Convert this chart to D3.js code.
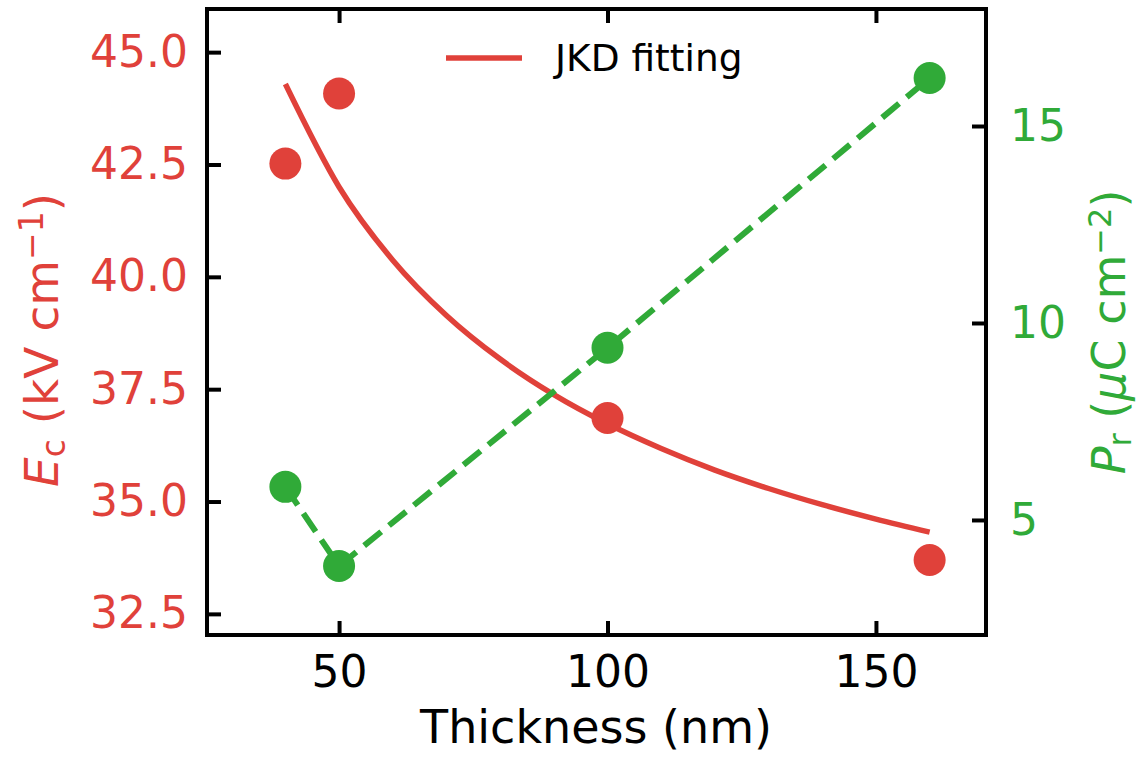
<!DOCTYPE html>
<html>
<head>
<meta charset="utf-8">
<script src="https://cdn.jsdelivr.net/npm/d3@7"></script>
<style>
  body { margin: 0; background: #fff; }
  svg text { font-family: 'DejaVu Sans', sans-serif; }
</style>
</head>
<body>
<svg id="chart" width="1143" height="757"></svg>
<script>
// measured data
const thickness = [40, 50, 100, 160];
const ecValues = [42.52, 44.08, 36.86, 33.70];
const prValues = [5.84, 3.83, 9.37, 16.22];

// JKD fitting curve
const fitThickness = [40, 50, 60, 70, 80, 90, 100, 110, 120, 130, 140, 150, 160];
const fitEc = [44.29, 42.0, 40.37, 39.14, 38.17, 37.38, 36.73, 36.18, 35.70, 35.29, 34.93, 34.61, 34.32];

const xTicks = [50, 100, 150];
const ecTicks = [32.5, 35.0, 37.5, 40.0, 42.5, 45.0];
const prTicks = [5, 10, 15];

const RED = '#e0413a';
const GREEN = '#30aa38';

const box = { left: 207, right: 986, top: 9, bottom: 635 };
const svg = d3.select('#chart');

const x = d3.scaleLinear().domain([25.4, 170.5]).range([box.left, box.right]);
const yL = d3.scaleLinear().domain([32.03, 45.96]).range([box.bottom, box.top]);
const yR = d3.scaleLinear().domain([2.08, 17.97]).range([box.bottom, box.top]);

const tickLen = 14;
const styleAxis = (g, color) => {
  g.select('.domain').remove();
  g.selectAll('.tick line').attr('stroke', '#000').attr('stroke-width', 4);
  g.selectAll('.tick text').attr('fill', color).style('font-size', '44px');
};

// axes
svg.append('g')
  .attr('transform', `translate(${box.left},0)`)
  .call(d3.axisLeft(yL).tickValues(ecTicks).tickFormat(d3.format('.1f')).tickSize(-tickLen).tickPadding(19))
  .call(g => styleAxis(g, RED));

svg.append('g')
  .attr('transform', `translate(${box.right},0)`)
  .call(d3.axisRight(yR).tickValues(prTicks).tickSize(-tickLen).tickPadding(24))
  .call(g => styleAxis(g, GREEN));

svg.append('g')
  .attr('transform', `translate(0,${box.bottom})`)
  .call(d3.axisBottom(x).tickValues(xTicks).tickSize(-tickLen).tickPadding(21))
  .call(g => styleAxis(g, '#000'));

svg.append('g')
  .attr('transform', `translate(0,${box.top})`)
  .call(d3.axisTop(x).tickValues(xTicks).tickSize(-tickLen).tickFormat(''))
  .call(g => styleAxis(g, '#000'));

// fit curve
const fitLine = d3.line().x((d, i) => x(fitThickness[i])).y(d => yL(d)).curve(d3.curveMonotoneX);
svg.append('path')
  .datum(fitEc)
  .attr('d', fitLine)
  .attr('fill', 'none')
  .attr('stroke', RED)
  .attr('stroke-width', 5.5);

// Pr dashed line
const prLine = d3.line().x((d, i) => x(thickness[i])).y(d => yR(d));
svg.append('path')
  .datum(prValues)
  .attr('d', prLine)
  .attr('fill', 'none')
  .attr('stroke', GREEN)
  .attr('stroke-width', 6)
  .attr('stroke-dasharray', '22,10');

svg.selectAll('.ec-dot')
  .data(ecValues)
  .enter().append('circle')
  .attr('class', 'ec-dot')
  .attr('cx', (d, i) => x(thickness[i]))
  .attr('cy', d => yL(d))
  .attr('r', 16)
  .attr('fill', RED);

svg.selectAll('.pr-dot')
  .data(prValues)
  .enter().append('circle')
  .attr('class', 'pr-dot')
  .attr('cx', (d, i) => x(thickness[i]))
  .attr('cy', d => yR(d))
  .attr('r', 16)
  .attr('fill', GREEN);

// frame
svg.append('rect')
  .attr('x', box.left)
  .attr('y', box.top)
  .attr('width', box.right - box.left)
  .attr('height', box.bottom - box.top)
  .attr('fill', 'none')
  .attr('stroke', '#000')
  .attr('stroke-width', 4);

// legend
svg.append('line')
  .attr('x1', 446).attr('x2', 522)
  .attr('y1', 58).attr('y2', 58)
  .attr('stroke', RED).attr('stroke-width', 5.5);
svg.append('text')
  .attr('x', 555).attr('y', 58)
  .attr('dy', '0.35em')
  .style('font-size', '37.5px')
  .text('JKD fitting');

// axis labels
svg.append('text')
  .attr('x', 596)
  .attr('y', 743)
  .attr('text-anchor', 'middle')
  .style('font-size', '46px')
  .text('Thickness (nm)');

const leftLabel = svg.append('text')
  .attr('transform', `translate(58,${(box.top + box.bottom) / 2 + 18}) rotate(-90)`)
  .attr('text-anchor', 'middle')
  .attr('fill', RED)
  .style('font-size', '47px');
leftLabel.append('tspan').style('font-style', 'italic').text('E');
leftLabel.append('tspan').attr('baseline-shift', '-20%').style('font-size', '33px').text('c');
leftLabel.append('tspan').text(' (kV cm');
leftLabel.append('tspan').attr('baseline-shift', '45%').style('font-size', '33px').text('\u22121');
leftLabel.append('tspan').text(')');

const rightLabel = svg.append('text')
  .attr('transform', `translate(1125,${(box.top + box.bottom) / 2 + 10}) rotate(-90)`)
  .attr('text-anchor', 'middle')
  .attr('fill', GREEN)
  .style('font-size', '46px');
rightLabel.append('tspan').style('font-style', 'italic').text('P');
rightLabel.append('tspan').attr('baseline-shift', '-20%').style('font-size', '32px').text('r');
rightLabel.append('tspan').text(' (');
rightLabel.append('tspan').style('font-style', 'italic').text('\u03bc');
rightLabel.append('tspan').text('C cm');
rightLabel.append('tspan').attr('baseline-shift', '45%').style('font-size', '32px').text('\u22122');
rightLabel.append('tspan').text(')');
</script>
</body>
</html>
